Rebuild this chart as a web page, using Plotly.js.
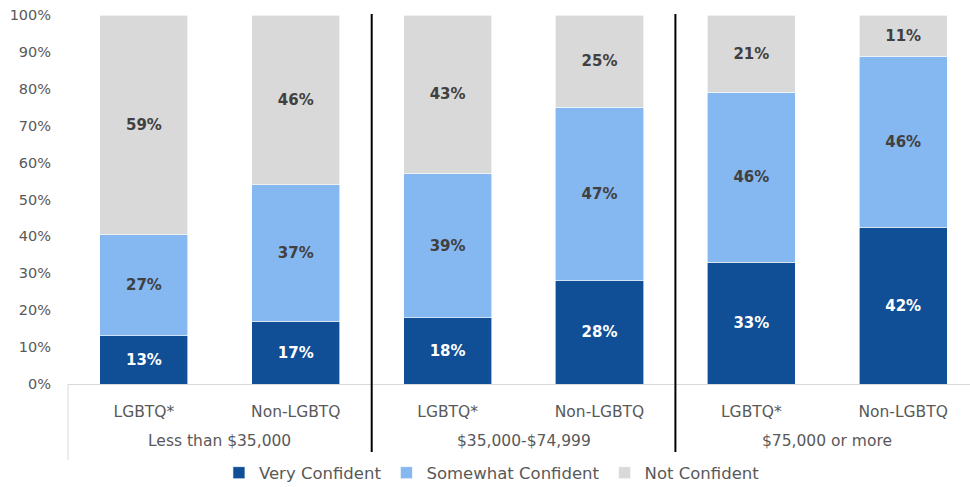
<!DOCTYPE html>
<html>
<head>
<meta charset="utf-8">
<script src="https://cdn.plot.ly/plotly-3.0.1.min.js"></script>
<style>html,body{margin:0;padding:0;background:#fff;}#chart{width:970px;height:487px;}</style>
</head>
<body>
<div id="chart"></div>
<script>
var groups = ["Less than $35,000", "Less than $35,000", "$35,000-$74,999", "$35,000-$74,999", "$75,000 or more", "$75,000 or more"];
var segments = ["LGBTQ*", "Non-LGBTQ", "LGBTQ*", "Non-LGBTQ", "LGBTQ*", "Non-LGBTQ"];
var veryConfident = [13, 17, 18, 28, 33, 42];
var somewhatConfident = [27, 37, 39, 47, 46, 46];
var notConfident = [59, 46, 43, 25, 21, 11];
var seriesNames = ["Very Confident", "Somewhat Confident", "Not Confident"];
var yTicks = [0, 10, 20, 30, 40, 50, 60, 70, 80, 90, 100];

var FONT = "DejaVu Sans, sans-serif";
var xr = [-0.5, 5.44];
function px(v) { return (v - xr[0]) / (xr[1] - xr[0]); }

var cats = groups.map(function (g, i) { return g + " | " + segments[i]; });

function mk(vals, name, color, txtColor) {
  return {
    type: "bar",
    x: cats,
    y: vals,
    name: name,
    marker: {color: color, line: {color: "#ffffff", width: 0.6}},
    text: vals.map(function (v) { return v + "%"; }),
    textposition: "inside",
    insidetextanchor: "middle",
    textangle: 0,
    textfont: {family: FONT, size: 15, color: txtColor, weight: "bold"},
    hoverinfo: "skip"
  };
}

var data = [
  mk(veryConfident, seriesNames[0], "#104E96", "#ffffff"),
  mk(somewhatConfident, seriesNames[1], "#85B7F0", "#404040"),
  mk(notConfident, seriesNames[2], "#D9D9D9", "#404040")
];

// group labels centred under each pair of bars
var annotations = [];
var seen = {};
groups.forEach(function (g) {
  if (seen[g]) return;
  var idx = [];
  groups.forEach(function (h, j) { if (h === g) idx.push(j); });
  seen[g] = true;
  annotations.push({
    xref: "x", yref: "paper",
    x: (idx[0] + idx[idx.length - 1]) / 2, y: -0.1545,
    xanchor: "center", yanchor: "middle",
    text: g, showarrow: false,
    font: {family: FONT, size: 15.5, color: "#595959"}
  });
});

var shapes = [
  {type: "line", xref: "paper", yref: "paper", x0: px(1.5), x1: px(1.5), y0: 1.003, y1: -0.184, line: {color: "#000000", width: 2}},
  {type: "line", xref: "paper", yref: "paper", x0: px(3.5), x1: px(3.5), y0: 1.003, y1: -0.184, line: {color: "#000000", width: 2}},
  {type: "line", xref: "paper", yref: "paper", x0: 0, x1: 0, y0: 0, y1: -0.206, line: {color: "#D9D9D9", width: 1}}
];

var layout = {
  width: 970, height: 487,
  margin: {l: 68, r: 0, t: 15, b: 103, pad: 0, autoexpand: false},
  paper_bgcolor: "#ffffff", plot_bgcolor: "#ffffff",
  barmode: "stack",
  barnorm: "percent",
  bargap: 0.42,
  font: {family: FONT, color: "#595959"},
  xaxis: {
    type: "category",
    range: xr,
    tickvals: cats,
    ticktext: segments,
    showline: true, linecolor: "#D9D9D9", linewidth: 1,
    ticks: "outside", ticklen: 13, tickcolor: "rgba(0,0,0,0)",
    tickfont: {family: FONT, size: 15.5, color: "#595959"},
    showgrid: false, zeroline: false,
    automargin: false
  },
  yaxis: {
    range: [0, 100],
    tickvals: yTicks,
    ticktext: yTicks.map(function (v) { return v + "%"; }),
    tickfont: {family: FONT, size: 14.5, color: "#595959"},
    showgrid: false, zeroline: false, showline: false,
    ticks: "outside", ticklen: 13, tickcolor: "rgba(0,0,0,0)",
    automargin: false
  },
  legend: {
    orientation: "h",
    x: 0.47, xanchor: "center",
    y: -0.241, yanchor: "middle",
    font: {family: FONT, size: 16.5, color: "#595959"},
    itemwidth: 30,
    traceorder: "normal"
  },
  showlegend: true,
  annotations: annotations,
  shapes: shapes
};

Plotly.newPlot("chart", data, layout, {displayModeBar: false, staticPlot: true});
</script>
</body>
</html>
